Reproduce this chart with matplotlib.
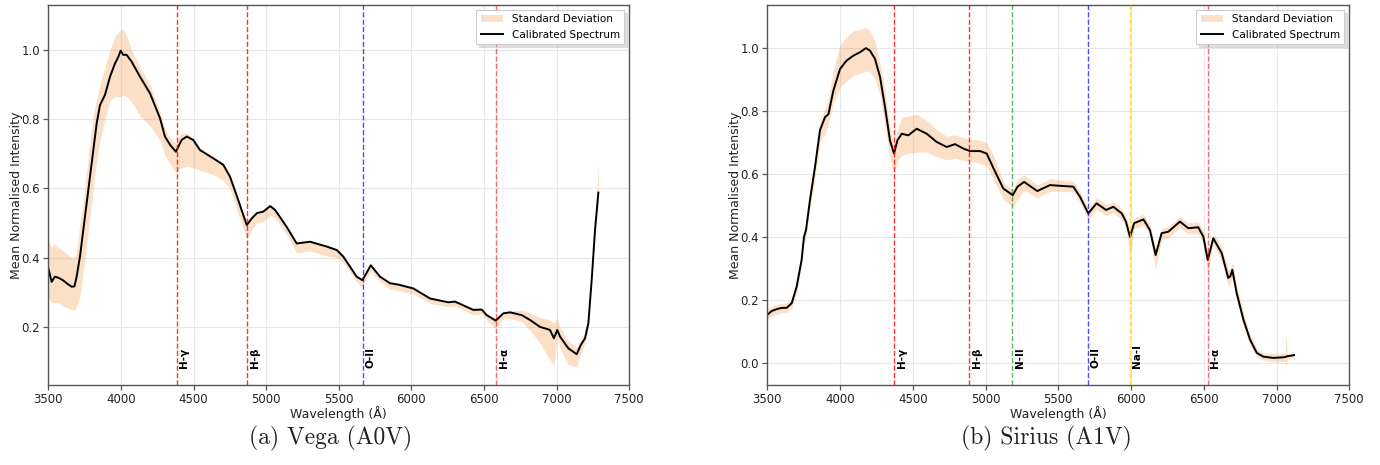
import matplotlib
matplotlib.use("Agg")
import matplotlib.pyplot as plt
import matplotlib.transforms as mtransforms

# ---------------- data: Vega (A0V) ----------------
vega_wl = [3500, 3523, 3545, 3569, 3600, 3630, 3661, 3680, 3695, 3718, 3741, 3764, 3787, 3810,
           3833, 3856, 3890, 3925, 3959, 3982, 3998, 4016, 4039, 4074, 4131, 4200, 4269, 4303,
           4340, 4379, 4400, 4418, 4453, 4498, 4544, 4636, 4705, 4751, 4808, 4866, 4900, 4937,
           4980, 5027, 5061, 5141, 5210, 5302, 5417, 5486, 5531, 5555, 5623, 5662, 5690, 5720,
           5784, 5853, 5911, 6013, 6128, 6254, 6300, 6426, 6484, 6518, 6580, 6633, 6679, 6759,
           6816, 6885, 6954, 6981, 7004, 7023, 7080, 7138, 7165, 7195, 7218, 7241, 7264, 7287]
vega_mean = [0.370, 0.330, 0.345, 0.342, 0.335, 0.325, 0.316, 0.317, 0.345, 0.403, 0.480, 0.557,
             0.634, 0.711, 0.788, 0.841, 0.870, 0.923, 0.961, 0.980, 0.998, 0.986, 0.986, 0.966,
             0.923, 0.875, 0.803, 0.750, 0.725, 0.706, 0.725, 0.740, 0.750, 0.740, 0.711, 0.687,
             0.668, 0.634, 0.566, 0.494, 0.513, 0.529, 0.533, 0.549, 0.538, 0.489, 0.441, 0.446,
             0.432, 0.422, 0.403, 0.388, 0.345, 0.335, 0.355, 0.378, 0.345, 0.326, 0.322, 0.311,
             0.282, 0.271, 0.273, 0.249, 0.250, 0.234, 0.218, 0.239, 0.242, 0.234, 0.220, 0.200,
             0.191, 0.167, 0.191, 0.172, 0.138, 0.121, 0.147, 0.167, 0.210, 0.335, 0.480, 0.588]
vega_lo = [0.28, 0.27, 0.27, 0.27, 0.26, 0.255, 0.25, 0.25, 0.26, 0.29, 0.36, 0.44, 0.52, 0.60,
           0.68, 0.74, 0.80, 0.855, 0.865, 0.865, 0.865, 0.87, 0.865, 0.85, 0.81, 0.78, 0.74,
           0.695, 0.67, 0.645, 0.655, 0.66, 0.665, 0.66, 0.653, 0.64, 0.624, 0.60, 0.525, 0.455,
           0.48, 0.50, 0.505, 0.523, 0.515, 0.465, 0.413, 0.42, 0.405, 0.40, 0.385, 0.37, 0.33,
           0.315, 0.34, 0.36, 0.33, 0.308, 0.305, 0.295, 0.268, 0.258, 0.26, 0.235, 0.238, 0.22,
           0.195, 0.225, 0.225, 0.215, 0.19, 0.153, 0.104, 0.09, 0.17, 0.14, 0.09, 0.085, 0.12,
           0.155, 0.20, 0.33, 0.475, 0.55]
vega_hi = [0.45, 0.43, 0.44, 0.43, 0.42, 0.41, 0.40, 0.40, 0.42, 0.50, 0.56, 0.65, 0.73, 0.81,
           0.86, 0.90, 0.95, 1.00, 1.04, 1.05, 1.06, 1.06, 1.04, 1.00, 0.95, 0.90, 0.82, 0.77,
           0.745, 0.73, 0.75, 0.76, 0.76, 0.745, 0.716, 0.69, 0.673, 0.64, 0.572, 0.50, 0.515,
           0.53, 0.535, 0.55, 0.54, 0.49, 0.445, 0.448, 0.435, 0.425, 0.405, 0.39, 0.347, 0.34,
           0.358, 0.38, 0.347, 0.328, 0.324, 0.313, 0.284, 0.273, 0.275, 0.255, 0.253, 0.238,
           0.225, 0.242, 0.245, 0.249, 0.24, 0.227, 0.22, 0.21, 0.225, 0.20, 0.16, 0.14, 0.16,
           0.18, 0.215, 0.34, 0.485, 0.675]
vega_lines = [4383, 4870, 5665, 6585]
vega_line_labels = ["H-γ", "H-β", "O-II", "H-α"]
vega_line_colors = ["red", "red", "blue", "red"]

# ---------------- data: Sirius (A1V) ----------------
sirius_wl = [3500, 3530, 3565, 3600, 3633, 3668, 3702, 3736, 3752, 3766, 3793, 3828, 3862, 3897,
             3920, 3954, 4000, 4044, 4091, 4137, 4178, 4206, 4240, 4275, 4309, 4343, 4371, 4394,
             4424, 4469, 4527, 4596, 4664, 4733, 4790, 4847, 4893, 4962, 5008, 5053, 5122, 5187,
             5220, 5265, 5356, 5443, 5535, 5603, 5649, 5706, 5763, 5828, 5878, 5936, 5965, 5993,
             6021, 6085, 6130, 6169, 6210, 6256, 6336, 6393, 6462, 6497, 6527, 6565, 6623, 6668,
             6682, 6696, 6726, 6772, 6818, 6864, 6909, 6978, 7046, 7060, 7066, 7072, 7120]
sirius_mean = [0.153, 0.165, 0.171, 0.175, 0.175, 0.190, 0.243, 0.328, 0.400, 0.422, 0.517, 0.623,
               0.739, 0.781, 0.790, 0.865, 0.934, 0.960, 0.976, 0.987, 1.000, 0.992, 0.966, 0.908,
               0.813, 0.707, 0.665, 0.707, 0.728, 0.723, 0.744, 0.728, 0.702, 0.686, 0.695, 0.681,
               0.673, 0.673, 0.665, 0.620, 0.554, 0.533, 0.560, 0.575, 0.546, 0.565, 0.562, 0.560,
               0.528, 0.475, 0.507, 0.486, 0.496, 0.475, 0.449, 0.400, 0.444, 0.456, 0.422, 0.343,
               0.412, 0.417, 0.449, 0.428, 0.431, 0.401, 0.327, 0.396, 0.349, 0.270, 0.275, 0.296,
               0.222, 0.138, 0.074, 0.032, 0.020, 0.016, 0.018, 0.019, 0.020, 0.021, 0.025]
sirius_lo = [0.14, 0.15, 0.155, 0.16, 0.16, 0.175, 0.225, 0.31, 0.38, 0.40, 0.49, 0.59, 0.70, 0.73,
             0.76, 0.824, 0.876, 0.895, 0.913, 0.92, 0.928, 0.925, 0.903, 0.85, 0.75, 0.65, 0.602,
             0.64, 0.66, 0.665, 0.67, 0.67, 0.655, 0.645, 0.65, 0.644, 0.64, 0.635, 0.625, 0.585,
             0.52, 0.496, 0.52, 0.549, 0.525, 0.545, 0.545, 0.543, 0.51, 0.455, 0.488, 0.468,
             0.478, 0.455, 0.43, 0.34, 0.425, 0.438, 0.405, 0.296, 0.393, 0.398, 0.43, 0.41, 0.41,
             0.38, 0.29, 0.375, 0.325, 0.245, 0.25, 0.27, 0.20, 0.118, 0.058, 0.02, 0.008, 0.003,
             0.005, 0.005, -0.01, 0.01, 0.018]
sirius_hi = [0.17, 0.18, 0.185, 0.19, 0.19, 0.205, 0.26, 0.345, 0.42, 0.445, 0.54, 0.65, 0.77, 0.81,
             0.84, 0.93, 1.01, 1.035, 1.055, 1.06, 1.065, 1.055, 1.02, 0.95, 0.865, 0.75, 0.69,
             0.74, 0.78, 0.785, 0.79, 0.77, 0.74, 0.72, 0.725, 0.715, 0.71, 0.707, 0.70, 0.66,
             0.575, 0.55, 0.585, 0.597, 0.565, 0.585, 0.58, 0.577, 0.545, 0.49, 0.525, 0.503,
             0.513, 0.49, 0.465, 0.42, 0.46, 0.473, 0.44, 0.36, 0.428, 0.433, 0.465, 0.445, 0.448,
             0.42, 0.35, 0.41, 0.37, 0.295, 0.30, 0.32, 0.245, 0.158, 0.09, 0.045, 0.032, 0.03,
             0.03, 0.03, 0.10, 0.03, 0.03]
sirius_lines = [4371, 4886, 5181, 5702, 5991, 6526]
sirius_line_labels = ["H-γ", "H-β", "N-II", "O-II", "Na-I", "H-α"]
sirius_line_colors = ["red", "red", "green", "blue", "gold", "red"]

captions = ["(a) Vega (A0V)", "(b) Sirius (A1V)"]

# ---------------- figure ----------------
plt.rcParams['font.family'] = ['DejaVu Sans']
fig = plt.figure(figsize=(13.8, 4.65), dpi=100)
ax1 = fig.add_axes([48.3 / 1380, 1 - 385 / 465, 581 / 1380, 380 / 465])
ax2 = fig.add_axes([767.3 / 1380, 1 - 385 / 465, 582 / 1380, 380 / 465])

line_alpha = {"red": 0.8, "blue": 0.7, "green": 0.6, "gold": 0.75}


def draw(ax, wl, mean, lo, hi, lines, labels, colors, ylim, yticks):
    ax.fill_between(wl, lo, hi, color='#f4a460', alpha=0.35, linewidth=0,
                    label='Standard Deviation')
    ax.plot(wl, mean, color='black', lw=1.4, label='Calibrated Spectrum')
    trans = mtransforms.blended_transform_factory(ax.transData, ax.transAxes)
    for x, lab, c in zip(lines, labels, colors):
        a = line_alpha[c]
        if lab == "H-α":
            a = 0.6
        ax.axvline(x, color=c, ls='--', lw=1.0, alpha=a, zorder=3)
        ax.text(x + 18, 0.045, lab, transform=trans, rotation=90, ha='left', va='bottom',
                fontsize=7.5, fontweight='bold', color='black')
    ax.set_xlim(3500, 7500)
    ax.set_ylim(*ylim)
    ax.set_xticks([3500, 4000, 4500, 5000, 5500, 6000, 6500, 7000, 7500])
    ax.set_yticks(yticks)
    ax.set_yticklabels([f"{t:.1f}" for t in yticks])
    ax.grid(True, color='#e6e6e6', lw=0.8)
    ax.set_axisbelow(True)
    for s in ax.spines.values():
        s.set_color('#555555')
        s.set_linewidth(1.0)
    ax.tick_params(axis='both', direction='out', length=3.5, width=0.9, labelsize=8.5,
                   colors='#555555', labelcolor='#222222', top=False, right=False, pad=2.5)
    ax.set_xlabel('Wavelength (Å)', fontsize=9, color='#222222', labelpad=0)
    ax.set_ylabel('Mean Normalised Intensity', fontsize=9, color='#222222', labelpad=-1)
    leg = ax.legend(loc='upper right', fontsize=7.5,
                    shadow={'color': '#aaaaaa', 'alpha': 0.35}, fancybox=False,
                    framealpha=1.0, edgecolor='#cccccc', borderpad=0.4, handlelength=2.2)
    leg.get_frame().set_linewidth(0.8)


draw(ax1, vega_wl, vega_mean, vega_lo, vega_hi, vega_lines, vega_line_labels,
     vega_line_colors, (0.032, 1.13), [0.2, 0.4, 0.6, 0.8, 1.0])
draw(ax2, sirius_wl, sirius_mean, sirius_lo, sirius_hi, sirius_lines, sirius_line_labels,
     sirius_line_colors, (-0.07, 1.137), [0.0, 0.2, 0.4, 0.6, 0.8, 1.0])

fig.text(331 / 1380, 1 - 438 / 465, captions[0], ha='center', va='center',
         fontsize=17, family='cmr10', color='#222222')
fig.text(1046 / 1380, 1 - 438 / 465, captions[1], ha='center', va='center',
         fontsize=17, family='cmr10', color='#222222')

fig.savefig('out.png', dpi=100)
